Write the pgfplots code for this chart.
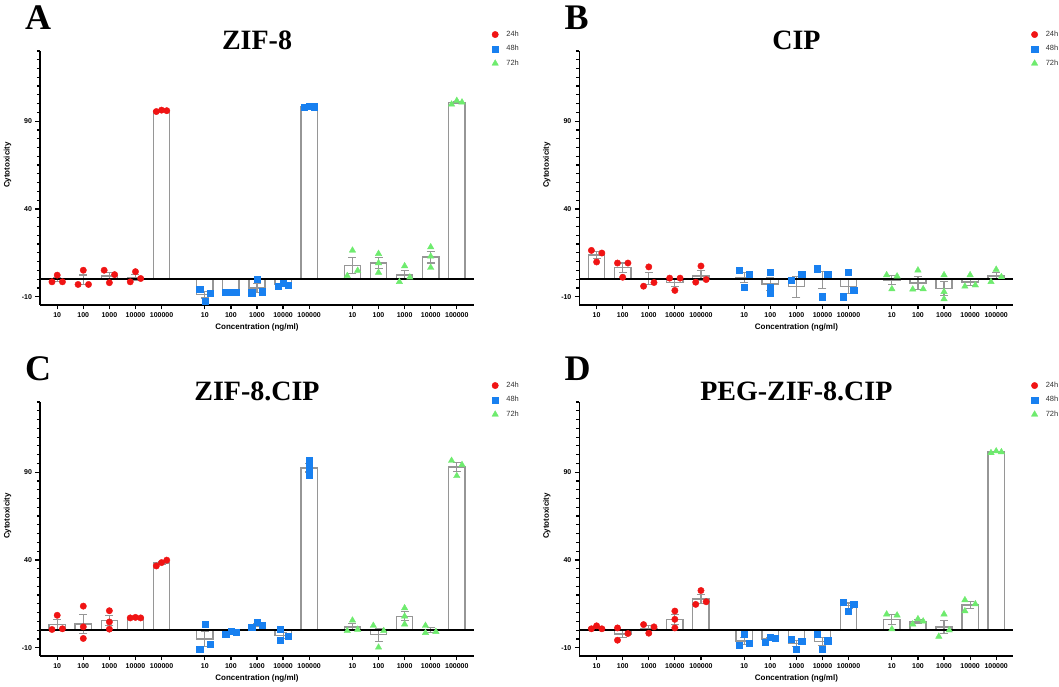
\documentclass[border=0pt]{standalone}
\usepackage{pgfplots}
\usepackage{pgfplotstable}
\pgfplotsset{compat=1.18}
\usepackage{fontspec}
\setmainfont{Liberation Sans}
\newfontfamily\serifb{Liberation Serif}
\definecolor{cred}{RGB}{240,20,20}
\definecolor{cblue}{RGB}{24,128,240}
\definecolor{cgreen}{RGB}{110,235,110}
\definecolor{cbar}{RGB}{150,150,150}

% ---------------- Panel A : ZIF-8 ----------------
\pgfplotstableread{
x m e
0 -0.23 1.27
1 -0.3 2.7
2 1.9 2.08
3 1.07 1.7
4 95.9 0.25
5.66 -8.77 1.93
6.66 -7.3 0.06
7.66 -4.93 2.47
8.66 -3.13 0.44
9.66 98.3 0.12
11.32 7.73 4.42
12.32 9.17 3.09
13.32 2.37 2.67
14.32 12.63 3.38
15.32 100.7 0.6
}\Abars
\pgfplotstableread{
x y
-0.2 -1.5
0 2.3
0.2 -1.5
0.8 -3.0
1 5.1
1.2 -3.0
1.8 5.1
2 -2.0
2.2 2.6
2.8 -1.5
3 4.3
3.2 0.4
3.8 95.5
4 96.3
4.2 96.0
}\Aa
\pgfplotstableread{
x y
5.46 -5.8
5.66 -12.4
5.86 -8.1
6.46 -7.4
6.66 -7.2
6.86 -7.3
7.46 -7.7
7.66 0.0
7.86 -7.1
8.46 -3.8
8.66 -2.3
8.86 -3.3
9.46 98.1
9.66 98.5
9.86 98.3
}\Ab
\pgfplotstableread{
x y
11.12 1.9
11.32 16.4
11.52 4.9
12.32 14.5
12.32 9.2
12.32 3.8
13.12 -1.5
13.32 7.5
13.52 1.1
14.32 18.3
14.32 13.0
14.32 6.6
15.12 99.6
15.32 101.7
15.52 100.8
}\Ac

% ---------------- Panel B : CIP ----------------
\pgfplotstableread{
x m e
0 13.7 2.0
1 6.5 2.7
2 0.37 3.37
3 -1.73 2.33
4 1.87 2.85
5.66 1.07 2.94
6.66 -2.7 3.52
7.66 -4.3 6.0
8.66 -0.33 4.9
9.66 -4.03 4.2
11.32 -0.5 2.56
12.32 -2.1 3.6
13.32 -5.37 4.06
14.32 -1.7 2.06
15.32 1.77 2.03
}\Bbars
\pgfplotstableread{
x y
-0.2 16.4
0 9.8
0.2 14.9
0.8 9.2
1 1.1
1.2 9.2
1.8 -4.0
2 7.0
2.2 -1.9
2.8 0.6
3 -6.4
3.2 0.6
3.8 -1.7
4 7.5
4.2 -0.2
}\Ba
\pgfplotstableread{
x y
5.46 4.9
5.66 -4.7
5.86 3.0
6.66 4.1
6.66 -4.5
6.66 -7.7
7.46 -0.8
7.86 3.0
8.46 6.0
8.66 -10.0
8.86 3.0
9.46 -10.0
9.66 4.1
9.86 -6.2
}\Bb
\pgfplotstableread{
x y
11.12 2.4
11.32 -5.6
11.52 1.7
12.12 -5.8
12.32 5.1
12.52 -5.6
13.32 2.4
13.32 -7.2
13.32 -11.3
14.12 -4.1
14.32 2.4
14.52 -3.4
15.12 -1.5
15.32 5.5
15.52 1.3
}\Bc

% ---------------- Panel C : ZIF-8.CIP ----------------
\pgfplotstableread{
x m e
0 3.23 2.64
1 3.63 5.4
2 5.47 3.05
3 7.1 0.1
4 38.3 0.95
5.66 -5.07 4.3
6.66 -1.43 0.52
7.66 3.13 0.83
8.66 -2.87 1.75
9.66 92.47 2.34
11.32 1.87 1.88
12.32 -2.53 3.74
13.32 7.97 2.66
14.32 0.07 1.28
15.32 92.9 2.6
}\Cbars
\pgfplotstableread{
x y
-0.2 0.4
0 8.5
0.2 0.8
1 13.7
1 1.9
1 -4.7
2 11.1
2 4.7
2 0.6
2.8 7.0
3 7.3
3.2 7.0
3.8 36.6
4 38.5
4.2 39.9
}\Ca
\pgfplotstableread{
x y
5.46 -10.7
5.66 3.4
5.86 -7.9
6.46 -2.4
6.66 -0.6
6.86 -1.3
7.46 1.9
7.66 4.7
7.86 2.8
8.56 0.4
8.56 -5.6
8.86 -3.4
9.66 96.6
9.66 92.3
9.66 88.5
}\Cb
\pgfplotstableread{
x y
11.12 -0.4
11.32 5.6
11.52 0.4
12.12 2.6
12.32 -9.8
12.52 -0.4
13.32 12.6
13.32 7.9
13.32 3.4
14.12 2.6
14.12 -1.5
14.52 -0.9
15.12 96.6
15.32 87.9
15.52 94.2
}\Cc

% ---------------- Panel D : PEG-ZIF-8.CIP ----------------
\pgfplotstableread{
x m e
0 1.37 0.57
1 -2.1 2.02
2 1.13 1.47
3 6.13 2.77
4 17.83 2.42
5.66 -6.2 1.89
6.66 -5.1 0.86
7.66 -7.47 1.74
8.66 -6.4 2.49
9.66 13.93 1.55
11.32 6.07 2.74
12.32 4.97 0.87
13.32 1.83 3.78
14.32 14.33 1.84
15.32 101.5 0.3
}\Dbars
\pgfplotstableread{
x y
-0.2 0.8
0 2.5
0.2 0.8
0.8 1.3
0.8 -5.7
1.2 -1.9
1.8 3.2
2 -1.7
2.2 1.9
3 10.9
3 6.2
3 1.3
3.8 14.7
4 22.6
4.2 16.2
}\Da
\pgfplotstableread{
x y
5.46 -8.7
5.66 -2.5
5.86 -7.4
6.46 -6.8
6.66 -4.0
6.86 -4.5
7.46 -5.3
7.66 -10.9
7.86 -6.2
8.46 -2.3
8.66 -10.9
8.86 -6.0
9.46 16.0
9.66 10.9
9.86 14.9
}\Db
\pgfplotstableread{
x y
11.12 9.1
11.32 0.6
11.52 8.5
12.12 3.4
12.32 6.4
12.52 5.1
13.12 -3.6
13.32 9.1
13.52 0.0
14.12 17.2
14.12 10.9
14.52 14.9
15.12 101.0
15.32 102.0
15.52 101.5
}\Dc

\pgfplotsset{
  panelstyle/.style={
    scale only axis, width=434pt, height=254pt, anchor=south west,
    xmin=-0.66, xmax=15.98, ymin=-14.7, ymax=130,
    axis x line*=bottom, axis y line*=left,
    axis line style={-, line width=1.7pt, black},
    xtick={0,1,2,3,4,5.66,6.66,7.66,8.66,9.66,11.32,12.32,13.32,14.32,15.32},
    xticklabels={10,100,1000,10000,100000,10,100,1000,10000,100000,10,100,1000,10000,100000},
    ytick={-10,40,90}, yticklabels={-10,40,90},
    minor ytick={-10,-5,...,130},
    tick align=outside,
    major tick length=4.5pt, minor tick length=3pt,
    tick style={black, line width=1.2pt},
    tick label style={font=\fontsize{7}{8}\selectfont\bfseries, text=black},
    ylabel={Cytotoxicity}, xlabel={Concentration (ng/ml)},
    label style={font=\fontsize{8}{9}\selectfont\bfseries},
    ylabel style={at={(axis description cs:-0.0749,0.551)}, anchor=center},
    xlabel style={at={(axis description cs:0.5,-0.0894)}, anchor=center},
    title style={font=\serifb\bfseries\fontsize{28}{30}\selectfont, at={(axis description cs:0.5,1)}, anchor=base, yshift=-5pt},
    legend style={at={(axis description cs:1.041,1.087)}, anchor=north west, draw=none, fill=none,
      font=\fontsize{7.5}{8.5}\selectfont, text=black!80, row sep=3.5pt, inner sep=0pt,
      /tikz/every odd column/.append style={column sep=6pt}},
    legend cell align=left,
    legend image code/.code={\draw[##1] plot coordinates {(3.5pt,0pt)};},
  },
  barsty/.style={ybar, bar shift=0pt, bar width=0.625, fill=white, draw=cbar, line width=1.4pt, forget plot,
    error bars/.cd, y dir=both, y explicit,
    error bar style={cbar, line width=1.1pt},
    error mark options={rotate=90, mark size=4pt, cbar, line width=1.1pt}},
  p24/.style={only marks, mark=*, mark size=3.2pt, cred, mark options={draw=cred, fill=cred}},
  p48/.style={only marks, mark=square*, mark size=3.1pt, cblue, mark options={draw=cblue, fill=cblue}},
  p72/.style={only marks, mark=triangle*, mark size=3.7pt, cgreen, mark options={draw=cgreen, fill=cgreen}},
}

\newcommand{\panel}[6]{%
\begin{axis}[panelstyle, at={#1}, title={#2}]
\addplot[barsty] table[x=x, y=m, y error=e] {#3};
\addplot[forget plot, black, line width=1.7pt] coordinates {(-0.66,0) (15.98,0)};
\addplot[p24] table[x=x, y=y] {#4};
\addplot[p48] table[x=x, y=y] {#5};
\addplot[p72] table[x=x, y=y] {#6};
\legend{24h,48h,72h}
\end{axis}}

\begin{document}
\begin{tikzpicture}[x=1pt, y=1pt]
\useasboundingbox (0pt,0pt) rectangle (1059pt,687pt);
\panel{(40pt,382pt)}{ZIF-8}{\Abars}{\Aa}{\Ab}{\Ac}
\panel{(579.4pt,382pt)}{CIP}{\Bbars}{\Ba}{\Bb}{\Bc}
\panel{(40pt,31pt)}{ZIF-8.CIP}{\Cbars}{\Ca}{\Cb}{\Cc}
\panel{(579.4pt,31pt)}{PEG-ZIF-8.CIP}{\Dbars}{\Da}{\Db}{\Dc}
\node[anchor=base west, inner sep=0, font=\serifb\bfseries\fontsize{36}{38}\selectfont] at (25pt,657pt) {A};
\node[anchor=base west, inner sep=0, font=\serifb\bfseries\fontsize{36}{38}\selectfont] at (564.4pt,657pt) {B};
\node[anchor=base west, inner sep=0, font=\serifb\bfseries\fontsize{36}{38}\selectfont] at (25pt,306pt) {C};
\node[anchor=base west, inner sep=0, font=\serifb\bfseries\fontsize{36}{38}\selectfont] at (564.4pt,306pt) {D};
\end{tikzpicture}
\end{document}
